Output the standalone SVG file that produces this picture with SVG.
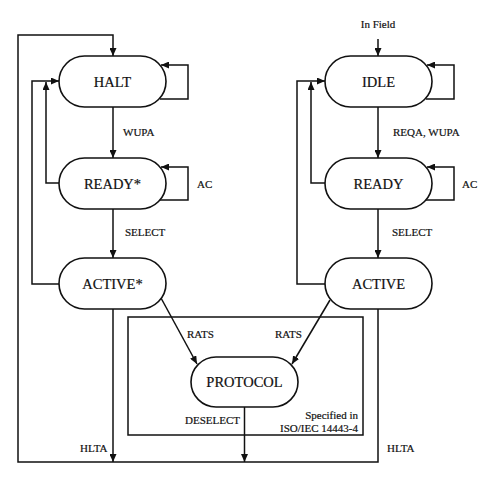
<svg xmlns="http://www.w3.org/2000/svg" width="503" height="481" viewBox="0 0 503 481">
<style>
.st{fill:#fff;stroke:#111;stroke-width:1.6}
.c{fill:none;stroke:#111;stroke-width:1.5}
.n{font-family:"Liberation Serif",serif;font-size:14.5px;fill:#111;text-anchor:middle;stroke:#111;stroke-width:0.2}
.l{font-family:"Liberation Serif",serif;font-size:11px;fill:#111;stroke:#111;stroke-width:0.2}
.box{fill:none;stroke:#111;stroke-width:1.5}
</style>
<defs>
<marker id="a" markerWidth="8" markerHeight="7" refX="8" refY="3.5" orient="auto" markerUnits="userSpaceOnUse">
<path d="M0,0 L8,3.5 L0,7 z" fill="#111"/>
</marker>
</defs>
<rect class="box" x="128" y="317" width="235" height="118"/>
<g id="connectors">
<path class="c" d="M378,309 V462 H18 V35 H113 V56" marker-end="url(#a)"/>
<path class="c" d="M113,309 V462" marker-end="url(#a)"/>
<path class="c" d="M244.5,407 V462" marker-end="url(#a)"/>
<path class="c" d="M113,107 V158" marker-end="url(#a)"/>
<path class="c" d="M113,209 V258" marker-end="url(#a)"/>
<path class="c" d="M160,99 H188 V65 H161" marker-end="url(#a)"/>
<path class="c" d="M160,200 H188 V167 H161" marker-end="url(#a)"/>
<path class="c" d="M59,284 H32 V81 H59" marker-end="url(#a)"/>
<path class="c" d="M59,183 H46 V82" marker-end="url(#a)"/>
<path class="c" d="M378,39 V56" marker-end="url(#a)"/>
<path class="c" d="M378,107 V158" marker-end="url(#a)"/>
<path class="c" d="M378,209 V258" marker-end="url(#a)"/>
<path class="c" d="M426,99 H454 V65 H427" marker-end="url(#a)"/>
<path class="c" d="M426,200 H454 V167 H427" marker-end="url(#a)"/>
<path class="c" d="M325,284 H297 V81 H325" marker-end="url(#a)"/>
<path class="c" d="M325,183 H311 V82" marker-end="url(#a)"/>
<path class="c" d="M161,298 L197,364" marker-end="url(#a)"/>
<path class="c" d="M330,300 L292,364" marker-end="url(#a)"/>
</g>
<g id="halt"><rect class="st" x="59" y="56" width="107" height="51" rx="25.5"/><text class="n" x="112.5" y="87">HALT</text></g>
<g id="ready-star"><rect class="st" x="59" y="158" width="107" height="51" rx="25.5"/><text class="n" x="112.5" y="189">READY*</text></g>
<g id="active-star"><rect class="st" x="59" y="258" width="107" height="51" rx="25.5"/><text class="n" x="112.5" y="289">ACTIVE*</text></g>
<g id="idle"><rect class="st" x="325" y="56" width="107" height="51" rx="25.5"/><text class="n" x="378.5" y="87">IDLE</text></g>
<g id="ready"><rect class="st" x="325" y="158" width="107" height="51" rx="25.5"/><text class="n" x="378.5" y="189">READY</text></g>
<g id="active"><rect class="st" x="325" y="258" width="107" height="51" rx="25.5"/><text class="n" x="378.5" y="289">ACTIVE</text></g>
<g id="protocol"><rect class="st" x="191" y="357" width="107" height="50" rx="25"/><text class="n" x="244.5" y="387">PROTOCOL</text></g>
<g id="labels">
<text class="l" x="378" y="28" text-anchor="middle">In Field</text>
<text class="l" x="123" y="136">WUPA</text>
<text class="l" x="393" y="136">REQA, WUPA</text>
<text class="l" x="197" y="188">AC</text>
<text class="l" x="462" y="188">AC</text>
<text class="l" x="125" y="236">SELECT</text>
<text class="l" x="392" y="236">SELECT</text>
<text class="l" x="187" y="338">RATS</text>
<text class="l" x="275" y="338">RATS</text>
<text class="l" x="185" y="424">DESELECT</text>
<text class="l" x="358" y="419" text-anchor="end">Specified in</text>
<text class="l" x="358" y="432" text-anchor="end">ISO/IEC 14443-4</text>
<text class="l" x="80" y="452">HLTA</text>
<text class="l" x="387" y="452">HLTA</text>
</g>
</svg>
